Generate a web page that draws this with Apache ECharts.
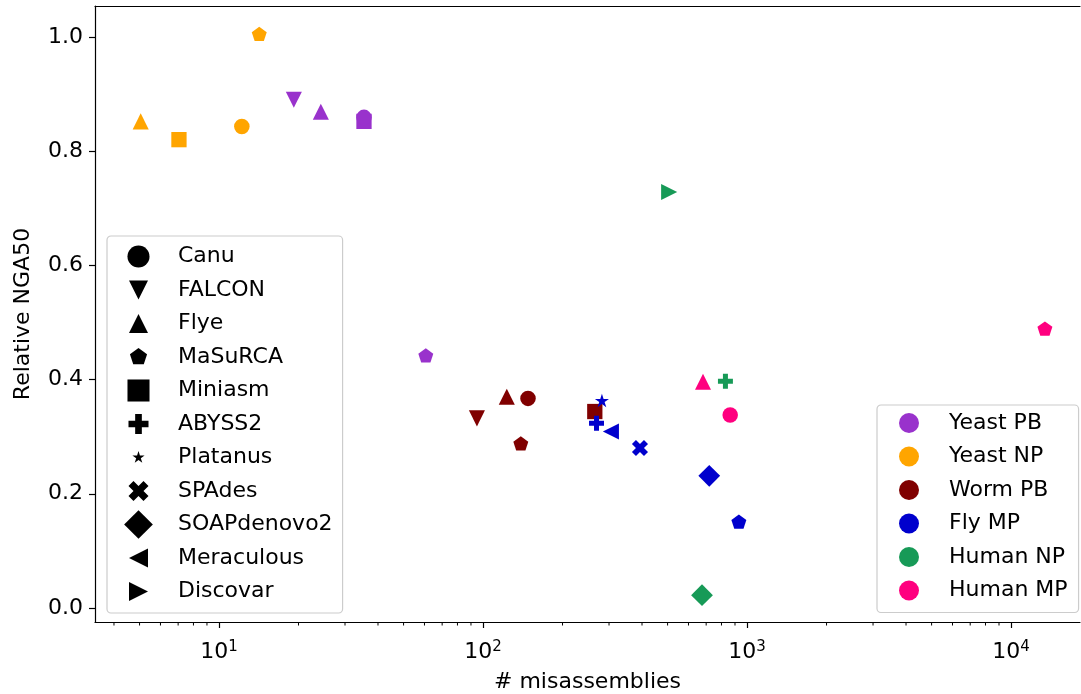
<!DOCTYPE html>
<html>
<head>
<meta charset="utf-8">
<script src="https://cdn.jsdelivr.net/npm/echarts@6/dist/echarts.min.js"></script>
<style>
  html, body { margin: 0; padding: 0; background: #fff; }
  #container { width: 1081px; height: 694px; }
</style>
</head>
<body>
<div id="container"></div>
<script>
// assemblers (marker shapes) and datasets (colours)
var assemblers = ['Canu', 'FALCON', 'Flye', 'MaSuRCA', 'Miniasm', 'ABYSS2', 'Platanus', 'SPAdes', 'SOAPdenovo2', 'Meraculous', 'Discovar'];
var datasets = ['Yeast PB', 'Yeast NP', 'Worm PB', 'Fly MP', 'Human NP', 'Human MP'];
var colors = ['#9932CC', '#FFA500', '#800000', '#0000CD', '#179A57', '#FF007F'];

// [misassemblies, relative NGA50, assembler]
var yeastPB = [[19.2, 0.890, 'FALCON'], [24.3, 0.869, 'Flye'], [35.4, 0.852, 'Miniasm'], [35.4, 0.859, 'Canu'], [60.7, 0.441, 'MaSuRCA']];
var yeastNP = [[5.05, 0.852, 'Flye'], [7.05, 0.820, 'Miniasm'], [12.2, 0.843, 'Canu'], [14.2, 1.004, 'MaSuRCA']];
var wormPB = [[94.8, 0.332, 'FALCON'], [123, 0.370, 'Flye'], [148, 0.367, 'Canu'], [139, 0.287, 'MaSuRCA'], [265, 0.344, 'Miniasm']];
var flyMP = [[282, 0.362, 'Platanus'], [269, 0.3235, 'ABYSS2'], [305, 0.309, 'Meraculous'], [393, 0.280, 'SPAdes'], [719, 0.2315, 'SOAPdenovo2'], [931, 0.150, 'MaSuRCA']];
var humanNP = [[507, 0.7285, 'Discovar'], [828, 0.397, 'ABYSS2'], [675, 0.0225, 'SOAPdenovo2']];
var humanMP = [[681, 0.396, 'Flye'], [863, 0.338, 'Canu'], [13430, 0.488, 'MaSuRCA']];
var allData = [yeastPB, yeastNP, wormPB, flyMP, humanNP, humanMP];

var xMin = 3.39, xMax = 18240;
var yMin = -0.0245, yMax = 1.054;
var minorTicks = [4, 5, 6, 7, 8, 9, 20, 30, 40, 50, 60, 70, 80, 90, 200, 300, 400, 500, 600, 700, 800, 900, 2000, 3000, 4000, 5000, 6000, 7000, 8000, 9000];

// marker shapes, drawn inside a [-1,1] box (pinned corners keep relative sizes)
function shape(kind, h) {
    var f = function (n) { return n.toFixed(3); };
    var pts = [], i, a, r;
    var d = 'path://M-1 -1M1 1';
    if (kind === 'circle') {
        return d + 'M' + f(h) + ' 0A' + f(h) + ' ' + f(h) + ' 0 1 1 ' + f(-h) + ' 0A' + f(h) + ' ' + f(h) + ' 0 1 1 ' + f(h) + ' 0Z';
    }
    if (kind === 'square') pts = [[-h, -h], [h, -h], [h, h], [-h, h]];
    if (kind === 'up') pts = [[0, -h], [h, h], [-h, h]];
    if (kind === 'down') pts = [[0, h], [h, -h], [-h, -h]];
    if (kind === 'left') pts = [[-h, 0], [h, -h], [h, h]];
    if (kind === 'right') pts = [[h, 0], [-h, -h], [-h, h]];
    if (kind === 'diamond') pts = [[0, -h], [h, 0], [0, h], [-h, 0]];
    if (kind === 'pentagon') {
        r = h / 0.951;
        for (i = 0; i < 5; i++) {
            a = (-90 + 72 * i) * Math.PI / 180;
            pts.push([r * Math.cos(a), r * Math.sin(a)]);
        }
    }
    if (kind === 'star') {
        r = h / 0.951;
        for (i = 0; i < 10; i++) {
            a = (-90 + 36 * i) * Math.PI / 180;
            var rr = i % 2 ? r * 0.381966 : r;
            pts.push([rr * Math.cos(a), rr * Math.sin(a)]);
        }
    }
    if (kind === 'plus') {
        var q = h / 3;
        pts = [[-q, -h], [q, -h], [q, -q], [h, -q], [h, q], [q, q], [q, h], [-q, h], [-q, q], [-h, q], [-h, -q], [-q, -q]];
    }
    if (kind === 'x') {
        var s = h / 2;
        pts = [[-1, -2], [0, -1], [1, -2], [2, -1], [1, 0], [2, 1], [1, 2], [0, 1], [-1, 2], [-2, 1], [-1, 0], [-2, -1]].map(function (p) { return [p[0] * s, p[1] * s]; });
    }
    d += 'M' + f(pts[0][0]) + ' ' + f(pts[0][1]);
    for (i = 1; i < pts.length; i++) d += 'L' + f(pts[i][0]) + ' ' + f(pts[i][1]);
    return d + 'Z';
}

var kinds = ['circle', 'down', 'up', 'pentagon', 'square', 'plus', 'star', 'x', 'diamond', 'left', 'right'];
var markerH = [0.705, 0.73, 0.73, 0.68, 0.695, 0.68, 0.64, 0.73, 0.99, 0.73, 0.73];
var legendH = [0.76, 0.655, 0.655, 0.59, 0.76, 0.69, 0.42, 0.69, 0.99, 0.655, 0.655];

var markerOf = {}, legendIconOf = {};
assemblers.forEach(function (a, i) {
    markerOf[a] = shape(kinds[i], markerH[i]);
    legendIconOf[a] = shape(kinds[i], legendH[i]);
});

var series = [];
datasets.forEach(function (name, k) {
    series.push({
        name: name,
        type: 'scatter',
        itemStyle: { color: colors[k], opacity: 1 },
        emphasis: { disabled: true },
        data: allData[k].map(function (p) {
            return { value: [p[0], p[1]], symbol: markerOf[p[2]], symbolSize: 22 };
        })
    });
});
// empty series, only so the shape legend has entries
assemblers.forEach(function (a) {
    series.push({ name: a, type: 'scatter', data: [], itemStyle: { color: '#000', opacity: 1 } });
});
// minor ticks of the log axis
series.push({
    type: 'custom',
    silent: true,
    clip: false,
    data: minorTicks.map(function (v) { return [v, yMin]; }),
    renderItem: function (params, api) {
        var p = api.coord([api.value(0), api.value(1)]);
        return { type: 'line', shape: { x1: p[0], y1: p[1], x2: p[0], y2: p[1] + 3.5 }, style: { stroke: '#000', lineWidth: 1 } };
    }
});

var font = 'DejaVu Sans';
var fs = 22;
var dom = document.getElementById('container');
var myChart = echarts.init(dom, null, { renderer: 'canvas' });
var option = {
    animation: false,
    backgroundColor: '#fff',
    textStyle: { fontFamily: font },
    grid: { left: 95, right: 1, top: 6, bottom: 72, outerBoundsMode: 'none', containLabel: false },
    xAxis: [{
        type: 'log',
        logBase: 10,
        min: xMin,
        max: xMax,
        name: '# misassemblies',
        nameLocation: 'middle',
        nameGap: 49,
        nameTextStyle: { fontSize: fs, color: '#000', fontFamily: font },
        splitLine: { show: false },
        axisLine: { onZero: false, lineStyle: { color: '#000', width: 1.2 } },
        axisTick: { length: 6, lineStyle: { color: '#000', width: 1.2 } },
        axisLabel: {
            margin: 18,
            color: '#000',
            showMinLabel: false,
            showMaxLabel: false,
            formatter: function (v) {
                var e = Math.round(Math.log10(v));
                if (Math.abs(Math.log10(v) - e) > 1e-6) return '';
                return '{b|10}{s|' + e + '}';
            },
            rich: {
                b: { fontSize: fs, fontFamily: font, color: '#000' },
                s: { fontSize: 15, fontFamily: font, color: '#000', padding: [0, 0, 10, 0] }
            }
        }
    }, {
        // top spine only
        type: 'value',
        position: 'top',
        min: 0,
        max: 1,
        axisLine: { show: true, onZero: false, lineStyle: { color: '#000', width: 1.2 } },
        axisTick: { show: false },
        axisLabel: { show: false },
        splitLine: { show: false }
    }],
    yAxis: {
        type: 'value',
        min: yMin,
        max: yMax,
        splitNumber: 5,
        name: 'Relative NGA50',
        nameLocation: 'middle',
        nameGap: 61,
        nameTextStyle: { fontSize: fs, color: '#000', fontFamily: font },
        splitLine: { show: false },
        axisLine: { show: true, onZero: false, lineStyle: { color: '#000', width: 1.2 } },
        axisTick: { show: true, length: 6, lineStyle: { color: '#000', width: 1.2 } },
        axisLabel: {
            margin: 12,
            color: '#000',
            fontSize: fs,
            showMinLabel: false,
            showMaxLabel: false,
            formatter: function (v) { return v.toFixed(1); }
        }
    },
    legend: [{
        orient: 'vertical',
        left: 107,
        top: 236,
        padding: [6, 10, 7, 17],
        itemWidth: 29,
        itemHeight: 29,
        itemGap: 4.5,
        selectedMode: false,
        backgroundColor: 'rgba(255,255,255,0.8)',
        borderColor: '#cccccc',
        borderWidth: 1.2,
        borderRadius: 4,
        textStyle: { fontSize: fs, color: '#000', fontFamily: font, padding: [0, 0, 0, 20] },
        data: assemblers.map(function (a) { return { name: a, icon: legendIconOf[a] }; })
    }, {
        orient: 'vertical',
        left: 877,
        top: 405,
        padding: [7, 11, 11, 22],
        itemWidth: 20,
        itemHeight: 20,
        itemGap: 11.5,
        selectedMode: false,
        backgroundColor: 'rgba(255,255,255,0.8)',
        borderColor: '#cccccc',
        borderWidth: 1.2,
        borderRadius: 4,
        textStyle: { fontSize: fs, color: '#000', fontFamily: font, padding: [0, 0, 0, 25] },
        data: datasets.map(function (d) { return { name: d, icon: 'circle' }; })
    }],
    series: series
};
myChart.setOption(option);
</script>
</body>
</html>
